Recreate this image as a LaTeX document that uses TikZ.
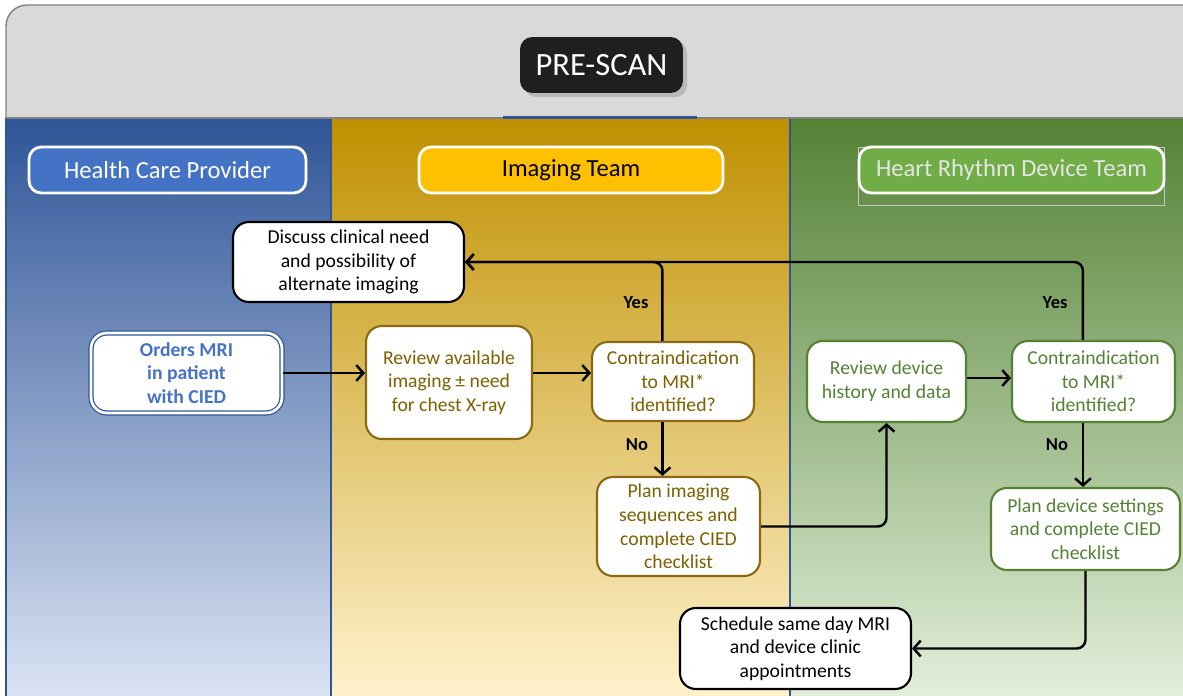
\documentclass[tikz,border=0pt]{standalone}
\usepackage{fontspec}
\setmainfont{Carlito}
\usetikzlibrary{arrows.meta,shadows}

\definecolor{hcpblue}{HTML}{4472C4}
\definecolor{lanebluetop}{HTML}{2F5597}
\definecolor{laneblueend}{HTML}{DAE3F3}
\definecolor{lanegoldtop}{HTML}{BF9000}
\definecolor{lanegoldend}{HTML}{FFF2CC}
\definecolor{lanegreentop}{HTML}{548235}
\definecolor{lanegreenend}{HTML}{E2EFDA}
\definecolor{imggold}{HTML}{FFC000}
\definecolor{goldtext}{HTML}{7F6000}
\definecolor{goldline}{HTML}{8B6914}
\definecolor{hrdgreen}{HTML}{70AD47}
\definecolor{greentext}{HTML}{548235}
\definecolor{panelgray}{HTML}{D9D9D9}

\tikzset{
  box/.style={draw, fill=white, rounded corners=9pt, line width=1.2pt, align=center,
    inner sep=2pt, font=\fontsize{11.2}{13.4}\selectfont},
  blackbox/.style={box, draw=black, text=black},
  goldbox/.style={box, draw=goldline, text=goldtext},
  greenbox/.style={box, draw=greentext, text=greentext},
  header/.style={draw=white, line width=1.6pt, rounded corners=7pt,
    minimum height=0.92cm, font=\fontsize{14}{16}\selectfont},
  lbl/.style={font=\fontsize{10.5}{12}\selectfont\bfseries},
  conn/.style={line width=1.4pt, rounded corners=5pt,
    -{Straight Barb[length=4pt,width=9pt,line width=1.4pt]}}
}

\begin{document}
\begin{tikzpicture}[x=0.02cm,y=-0.02cm]
\useasboundingbox (0,0) rectangle (1183,696);

% top panel
\fill[white] (0,0) rectangle (1183,696);
\draw[fill=panelgray, draw=gray, line width=0.8pt]
  (6,118) -- (6,25) [rounded corners=12pt] -- (6,5) [sharp corners] -- (1250,5) -- (1250,118) -- cycle;

% lanes
\shade[top color=lanebluetop, bottom color=laneblueend] (6,118) rectangle (331,696);
\shade[top color=lanegoldtop, bottom color=lanegoldend] (331,118) rectangle (790,696);
\shade[top color=lanegreentop, bottom color=lanegreenend] (790,118) rectangle (1183,696);
\draw[lanebluetop, line width=0.8pt] (6,118) -- (6,696);
\draw[lanebluetop, line width=0.8pt] (331,118) -- (331,696);
\draw[lanebluetop, line width=0.8pt] (790,118) -- (790,696);
\draw[gray, line width=0.8pt] (6,118) -- (1183,118);
\fill[lanebluetop] (503,116) rectangle (697,119);

\node[fill=black!88, rounded corners=7pt, minimum width=3.26cm, minimum height=1.12cm,
  text=white, font=\fontsize{18.5}{22}\selectfont, drop shadow={opacity=0.35}]
  (prescan) at (601.5,65) {PRE-SCAN};

% lane headers
\node[header, fill=hcpblue, text=white, minimum width=5.54cm] (hcp) at (167.5,170) {Health Care Provider};
\node[header, fill=imggold, text=black, minimum width=6.08cm] (imgteam) at (571,170) {Imaging Team};
\draw[gray!45, line width=0.3pt] (858,147) rectangle (1164,205);
\node[header, fill=hrdgreen, text=white!90!black, minimum width=6.1cm] (hrdteam) at (1011.5,170) {Heart Rhythm Device Team};

% steps
\node[blackbox, minimum width=4.62cm, minimum height=1.6cm] (discuss) at (348.5,262)
  {Discuss clinical need\\and possibility of\\alternate imaging};
\node[box, draw=lanebluetop, line width=0.7pt, double=white, double distance=1.6pt,
  text=hcpblue, font=\fontsize{11.2}{13.4}\selectfont\bfseries,
  minimum width=3.82cm, minimum height=1.6cm] (orders) at (186.5,373)
  {Orders MRI\\in patient\\with CIED};
\node[goldbox, minimum width=3.32cm, minimum height=2.26cm] (review) at (449,382.5)
  {Review available\\imaging ± need\\for chest X-ray};
\node[goldbox, minimum width=3.24cm, minimum height=1.58cm] (contraimg) at (673,381.5)
  {Contraindication\\to MRI*\\identified?};
\node[goldbox, minimum width=3.26cm, minimum height=1.98cm] (planimg) at (678.5,526.5)
  {Plan imaging\\sequences and\\complete CIED\\checklist};
\node[greenbox, minimum width=3.18cm, minimum height=1.62cm] (reviewdev) at (886.5,381.5)
  {Review device\\history and data};
\node[greenbox, minimum width=3.26cm, minimum height=1.62cm] (contradev) at (1093.5,381.5)
  {Contraindication\\to MRI*\\identified?};
\node[greenbox, minimum width=3.78cm, minimum height=1.64cm] (plandev) at (1085.5,529)
  {Plan device settings\\and complete CIED\\checklist};
\node[blackbox, minimum width=4.62cm, minimum height=1.62cm] (schedule) at (795.5,648.5)
  {Schedule same day MRI\\and device clinic\\appointments};

% branch labels
\node[lbl] (yesimg) at (636,303) {Yes};
\node[lbl] (noimg) at (637,445) {No};
\node[lbl] (yesdev) at (1055,303) {Yes};
\node[lbl] (nodev) at (1057,445) {No};

% connectors
\draw[conn] (orders.east) -- (orders.east -| review.west);
\draw[conn] (orders.east -| review.east) -- (orders.east -| contraimg.west);
\draw[conn] ([xshift=-6pt]contraimg.north) |- (discuss.east);
\draw[conn] ([xshift=-6pt]contradev.north) |- (discuss.east);
\draw[conn] ([xshift=-6pt]contraimg.south) -- ([xshift=-6pt]contraimg.south |- planimg.north);
\draw[conn] (planimg.east) -| (reviewdev.south);
\draw[conn] (reviewdev.east |- 0,378) -- (contradev.west |- 0,378);
\draw[conn] ([xshift=-6pt]contradev.south) -- ([xshift=-6pt]contradev.south |- plandev.north);
\draw[conn] (plandev.south) |- (schedule.east);

\end{tikzpicture}
\end{document}
